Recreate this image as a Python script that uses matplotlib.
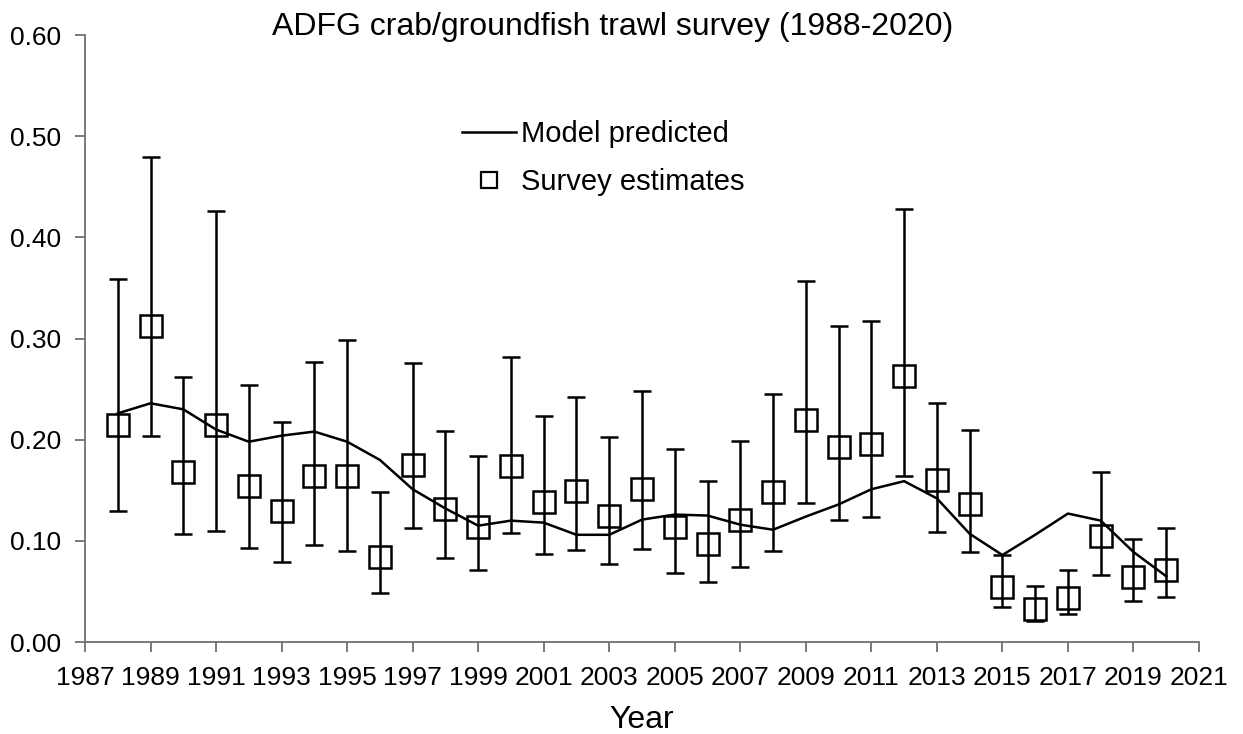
import numpy as np
import matplotlib
matplotlib.use("Agg")
import matplotlib.pyplot as plt
from matplotlib.ticker import FormatStrFormatter, MultipleLocator

plt.rcParams['font.family'] = ['Liberation Sans', 'DejaVu Sans']

# Survey estimates with lower/upper interval, plus model fit
years = np.arange(1988, 2021)
survey = [0.215, 0.312, 0.168, 0.215, 0.154, 0.130, 0.164, 0.164, 0.084, 0.175,
          0.131, 0.114, 0.174, 0.138, 0.149, 0.125, 0.151, 0.114, 0.097, 0.121,
          0.148, 0.219, 0.193, 0.196, 0.263, 0.160, 0.136, 0.054, 0.033, 0.044,
          0.105, 0.064, 0.071]
lower = [0.130, 0.204, 0.107, 0.110, 0.093, 0.079, 0.096, 0.090, 0.048, 0.113,
         0.083, 0.071, 0.108, 0.087, 0.091, 0.077, 0.092, 0.068, 0.059, 0.074,
         0.090, 0.137, 0.121, 0.124, 0.164, 0.109, 0.089, 0.035, 0.021, 0.028,
         0.066, 0.041, 0.045]
upper = [0.359, 0.479, 0.262, 0.426, 0.254, 0.217, 0.277, 0.299, 0.148, 0.276,
         0.209, 0.184, 0.282, 0.223, 0.242, 0.203, 0.248, 0.191, 0.159, 0.199,
         0.245, 0.357, 0.312, 0.317, 0.428, 0.236, 0.210, 0.086, 0.055, 0.071,
         0.168, 0.102, 0.113]
model = [0.226, 0.236, 0.230, 0.210, 0.198, 0.204, 0.208, 0.198, 0.180, 0.151,
         0.132, 0.115, 0.120, 0.118, 0.106, 0.106, 0.121, 0.126, 0.125, 0.116,
         0.111, 0.124, 0.136, 0.151, 0.159, 0.142, 0.107, 0.086, 0.106, 0.127,
         0.120, 0.089, 0.065]
xticks = np.arange(1987, 2022, 2)

survey = np.array(survey)
yerr = [survey - np.array(lower), np.array(upper) - survey]

fig = plt.figure(figsize=(12.43, 7.34), dpi=100)
ax = fig.add_axes([0.0684, 0.1253, 0.8962, 0.827])

line, = ax.plot(years, model, color='black', lw=1.8, zorder=3)
ax.errorbar(years, survey, yerr=yerr, fmt='none', ecolor='black', elinewidth=1.8,
            capsize=6.5, capthick=1.8, zorder=2)
ax.plot(years, survey, linestyle='none', marker='s', markersize=15.5,
        markerfacecolor='none', markeredgecolor='black', markeredgewidth=1.8,
        zorder=4)

ax.set_xlim(1987, 2021)
ax.set_ylim(0, 0.6)
ax.set_xticks(xticks)
ax.yaxis.set_major_locator(MultipleLocator(0.1))
ax.yaxis.set_major_formatter(FormatStrFormatter('%.2f'))

for side in ['top', 'right']:
    ax.spines[side].set_visible(False)
for side in ['left', 'bottom']:
    ax.spines[side].set_color('#707070')
    ax.spines[side].set_linewidth(1.3)
ax.tick_params(direction='out', length=7, width=1.3, color='#707070',
               labelsize=19, labelcolor='black')
ax.tick_params(axis='x', pad=10)
ax.tick_params(axis='y', pad=10)

ax.set_xlabel('Year', fontsize=23, labelpad=11)
fig.suptitle('ADFG crab/groundfish trawl survey (1988-2020)', fontsize=23,
             x=0.493, y=0.984, va='top')

# Marker-only legend handle for the survey squares
leg_pts = plt.Line2D([], [], linestyle='none', marker='s', markersize=11.5,
                     markerfacecolor='none', markeredgecolor='black',
                     markeredgewidth=1.6)
ax.legend([line, leg_pts], ['Model predicted', 'Survey estimates'],
          loc='upper left', bbox_to_anchor=(0.338, 0.860), frameon=False,
          fontsize=21, handlelength=1.85, handletextpad=0.18, labelspacing=0.69,
          borderpad=0, borderaxespad=0)

fig.savefig('out.png', dpi=100)
